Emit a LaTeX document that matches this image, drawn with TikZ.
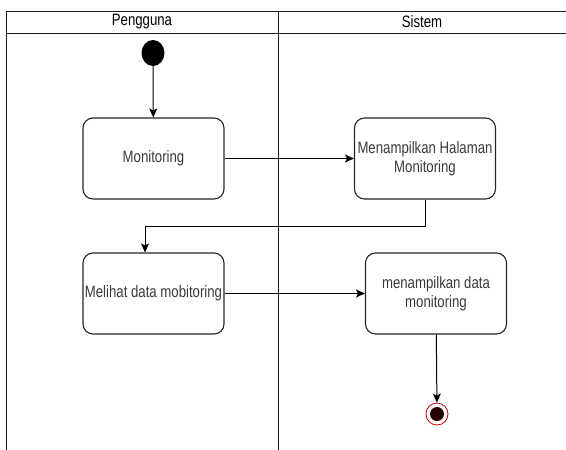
\documentclass[tikz,border=0pt]{standalone}
\usepackage{fontspec}
\setmainfont{Liberation Sans}[FakeStretch=0.8]
\usepackage{tikz}
\usetikzlibrary{arrows.meta,positioning}
\definecolor{txtgray}{HTML}{3A3A3A}
\tikzset{
	actbox/.style={draw=black!85,line width=1.1pt,rounded corners=10pt,
		minimum width=141pt,minimum height=81pt,align=center,inner sep=1pt,
		text=txtgray,font=\fontsize{16.5}{19}\selectfont},
	flow/.style={draw=black,line width=1pt,-{Stealth[length=9pt,width=8pt,inset=2pt]}},
	lane/.style={draw=black!90,line width=1pt}
}

\begin{document}
\begin{tikzpicture}[x=1pt,y=1pt]
			\useasboundingbox (0,0) rectangle (566,-450);
			% swimlanes
			\draw[lane] (6,-11) -- (570,-11);
			\draw[lane] (6,-33) -- (570,-33);
			\draw[lane] (6,-11) -- (6,-452);
			\draw[lane] (278,-11) -- (278,-452);
			\node[font=\fontsize{16.5}{18}\selectfont] (pengguna) at (142,-22) {Pengguna};
			\node[font=\fontsize{16.5}{18}\selectfont] (sistem) at (422,-22) {Sistem};
			
			% start and end
			\fill (153,-53) ellipse [x radius=11.5pt, y radius=13pt];
			\coordinate (start) at (153,-66);
			\node[circle,draw=red!80!black,fill=white,line width=0.8pt,minimum size=22pt,inner sep=0pt] (akhir) at (437,-414) {};
			\fill[black!85!red] (akhir.center) circle (7pt);
			
			% activities
			\node[actbox] (monitoring) at (153.5,-158.5) {Monitoring};
			\node[actbox] (halaman) at (425,-158.5) {Menampilkan Halaman\\Monitoring};
			\node[actbox] (melihat) at (153.5,-293.5) {Melihat data mobitoring};
			\node[actbox] (tampil) at (436,-293.5) {menampilkan data\\monitoring};
			
			% flows
			\coordinate (belok) at (145,-226);
			\draw[flow] (start) -- (monitoring);
			\draw[flow] (monitoring) -- (halaman);
			\draw[flow] (halaman.south) |- (belok) -- (belok |- melihat.north);
			\draw[flow] (melihat) -- (tampil);
			\draw[flow] (tampil) -- (akhir);
		\end{tikzpicture}
\end{document}
